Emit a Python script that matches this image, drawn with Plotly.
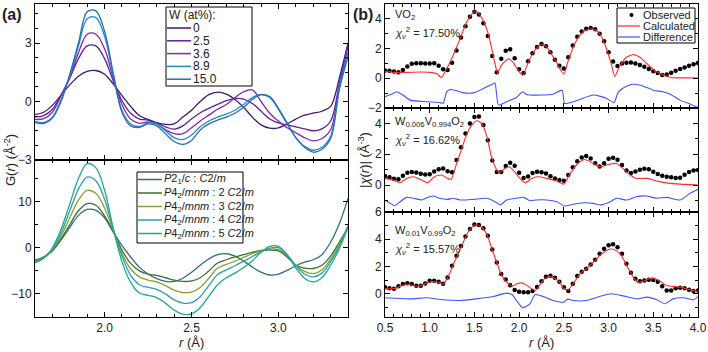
import plotly.graph_objects as go

# ---------------- panel (a) data ----------------
R_A = [1.60, 1.65, 1.70, 1.75, 1.80, 1.85, 1.90, 1.95, 2.00, 2.05, 2.10, 2.15, 2.20,
       2.25, 2.30, 2.35, 2.40, 2.45, 2.50, 2.55, 2.60, 2.65, 2.70, 2.75, 2.80, 2.85,
       2.90, 2.95, 3.00, 3.05, 3.10, 3.15, 3.20, 3.25, 3.30, 3.35, 3.40]

W_LABELS = ["0", "2.5", "3.6", "8.9", "15.0"]
G_W0 = [-0.67, -0.55, -0.2, 0.33, 0.85, 1.3, 1.55, 1.59, 1.4, 0.9, 0.3, -0.25, -0.72,
        -0.92, -1.08, -1.17, -1.15, -0.8, -0.45, 0.0, 0.35, 0.48, 0.38, 0.1, -0.3, -0.8,
        -1.2, -1.37, -1.35, -1.15, -0.9, -0.7, -0.6, -0.5, -0.25, 1.2, 3.0]
G_W25 = [-0.79, -0.72, -0.4, 0.33, 1.2, 2.2, 2.85, 2.85, 2.2, 1.05, 0.05, -0.6, -0.9,
         -0.95, -1.1, -1.3, -1.42, -1.25, -0.9, -0.58, -0.35, -0.15, 0.05, 0.15, 0.12, -0.1,
         -0.5, -0.9, -1.1, -1.2, -1.3, -1.4, -1.5, -1.4, -1.0, 0.9, 2.9]
G_W36 = [-0.92, -0.88, -0.55, 0.3, 1.25, 2.5, 3.45, 3.45, 2.7, 1.2, -0.15, -0.9, -1.12,
         -1.05, -1.15, -1.45, -1.65, -1.65, -1.35, -1.0, -0.7, -0.4, -0.15, 0.2, 0.5, 0.6,
         0.0, -0.6, -1.0, -1.35, -1.6, -1.85, -2.02, -1.9, -1.45, 0.8, 2.8]
G_W89 = [-1.02, -1.08, -0.8, 0.1, 1.3, 2.85, 4.25, 4.3, 3.35, 1.35, -0.45, -1.15, -1.28,
         -1.1, -1.15, -1.5, -1.85, -1.95, -1.72, -1.3, -1.0, -0.8, -0.65, -0.45, -0.15, 0.2,
         0.36, 0.2, -0.4, -1.15, -1.85, -2.3, -2.5, -2.35, -1.8, 0.7, 2.5]
G_W150 = [-1.08, -1.13, -0.85, 0.0, 1.4, 3.0, 4.6, 4.65, 3.6, 1.45, -0.55, -1.25, -1.33,
          -1.15, -1.25, -1.65, -2.05, -2.2, -2.0, -1.46, -1.15, -0.95, -0.8, -0.6, -0.3, 0.1,
          0.35, 0.25, -0.35, -1.1, -1.85, -2.35, -2.6, -2.45, -1.9, 0.6, 2.3]
W_COLORS = ["#40186e", "#5e1ea0", "#8228a8", "#1e8ad2", "#2a6cb6"]

PH_LABELS = ["<i>P</i>2<sub>1</sub>/<i>c</i> : <i>C</i>2/<i>m</i>",
             "<i>P</i>4<sub>2</sub>/<i>mnm</i> : 2 <i>C</i>2/<i>m</i>",
             "<i>P</i>4<sub>2</sub>/<i>mnm</i> : 3 <i>C</i>2/<i>m</i>",
             "<i>P</i>4<sub>2</sub>/<i>mnm</i> : 4 <i>C</i>2/<i>m</i>",
             "<i>P</i>4<sub>2</sub>/<i>mnm</i> : 5 <i>C</i>2/<i>m</i>"]
G_P21C = [-2.7, -2.0, -0.6, 1.7, 4.4, 7.0, 8.3, 8.1, 6.5, 3.4, 0.5, -2.0, -4.2, -5.7,
          -6.7, -7.3, -7.3, -6.6, -5.3, -3.8, -2.4, -1.5, -1.3, -1.8, -2.9, -4.2, -5.3,
          -5.9, -5.7, -4.9, -3.9, -3.1, -2.6, -1.5, 1.2, 5.2, 10.7]
G_P2 = [-2.9, -2.0, -0.7, 1.9, 5.0, 8.0, 9.55, 9.2, 6.9, 3.5, -0.5, -3.4, -5.0, -5.7,
        -6.0, -6.5, -7.0, -7.3, -7.2, -6.5, -5.0, -3.3, -2.6, -2.0, -1.5, -1.0, -0.6,
        -0.5, -0.7, -2.0, -3.8, -4.4, -4.5, -3.8, -1.8, 1.2, 4.4]
G_P3 = [-3.0, -2.1, -0.5, 2.5, 6.5, 10.3, 12.4, 11.8, 8.6, 3.8, -1.2, -4.6, -6.3, -7.0,
        -7.4, -8.2, -9.2, -9.7, -9.6, -8.6, -6.6, -4.4, -3.6, -2.9, -2.1, -1.3, -0.6,
        -0.3, -0.4, -1.7, -3.8, -5.1, -5.6, -4.8, -2.5, 0.7, 4.6]
G_P4 = [-3.2, -2.2, -0.3, 3.2, 8.0, 12.7, 15.3, 14.5, 10.5, 4.0, -1.8, -6.0, -8.0, -8.6,
        -9.0, -10.0, -11.3, -12.0, -11.9, -10.6, -8.2, -5.8, -4.8, -3.9, -2.9, -1.9, -0.9,
        -0.1, 0.0, -1.5, -3.9, -5.7, -6.3, -5.5, -3.0, 0.3, 4.8]
G_P5 = [-3.3, -2.3, 0.0, 4.0, 9.5, 15.0, 18.2, 17.3, 12.5, 4.2, -3.0, -7.5, -9.8, -10.3,
        -10.8, -12.0, -13.5, -14.4, -14.3, -13.0, -10.5, -8.0, -6.5, -5.5, -4.3, -2.8, -1.0,
        0.3, 0.3, -1.6, -4.4, -6.6, -7.4, -6.5, -3.8, -0.2, 4.5]
PH_COLORS = ["#2f7080", "#3b7030", "#86a030", "#2aa0b0", "#1faa88"]

# ---------------- panel (b) data ----------------
R_B = [0.50, 0.55, 0.60, 0.65, 0.70, 0.75, 0.80, 0.85, 0.90, 0.95, 1.00, 1.05, 1.10, 1.15,
       1.20, 1.25, 1.30, 1.35, 1.40, 1.45, 1.50, 1.55, 1.60, 1.65, 1.70, 1.75, 1.80, 1.85,
       1.90, 1.95, 2.00, 2.05, 2.10, 2.15, 2.20, 2.25, 2.30, 2.35, 2.40, 2.45, 2.50, 2.55,
       2.60, 2.65, 2.70, 2.75, 2.80, 2.85, 2.90, 2.95, 3.00, 3.05, 3.10, 3.15, 3.20, 3.25,
       3.30, 3.35, 3.40, 3.45, 3.50, 3.55, 3.60, 3.65, 3.70, 3.75, 3.80, 3.85, 3.90, 3.95,
       4.00]

OBS_VO2 = [0.53, 0.50, 0.45, 0.41, 0.55, 0.80, 0.97, 1.02, 1.02, 1.00, 1.00, 1.02, 0.85,
           0.60, 0.55, 1.05, 1.87, 2.75, 3.50, 4.15, 4.48, 4.30, 3.70, 2.85, 1.50, 0.40,
           1.31, 1.85, 1.95, 1.35, 0.60, 0.35, 1.15, 1.68, 2.10, 2.31, 2.15, 1.75, 1.25,
           0.85, 0.66, 1.42, 2.20, 2.80, 3.15, 3.33, 3.38, 3.30, 3.00, 2.50, 1.75, 1.13,
           0.82, 1.00, 1.05, 1.06, 1.00, 0.90, 0.78, 0.62, 0.48, 0.35, 0.22, 0.25, 0.38,
           0.50, 0.62, 0.73, 0.85, 0.95, 1.03]
CALC_VO2_R = [0.5, 0.6, 0.75, 0.9, 1.0, 1.08, 1.13, 1.19, 1.245, 1.30, 1.36, 1.41, 1.47,
              1.51, 1.54, 1.60, 1.655, 1.69, 1.73, 1.76, 1.80, 1.88, 1.93, 1.99, 2.04, 2.10,
              2.15, 2.20, 2.25, 2.31, 2.36, 2.42, 2.46, 2.50, 2.55, 2.60, 2.66, 2.72, 2.78,
              2.81, 2.87, 2.92, 2.98, 3.03, 3.07, 3.12, 3.20, 3.28, 3.35, 3.43, 3.50, 3.58,
              3.65, 3.72, 3.85, 4.0]
CALC_VO2 = [0.47, 0.4, 0.4, 0.42, 0.4, 0.31, 0.05, 0.64, 1.31, 2.09, 2.98, 3.76, 4.31,
            4.53, 4.42, 3.87, 2.98, 2.09, 0.98, 0.35, 0.87, 1.31, 1.09, 0.53, 0.2, 1.05,
            1.65, 2.05, 2.27, 2.1, 1.64, 1.05, 0.6, 0.27, 1.2, 2.0, 2.75, 3.15, 3.3, 3.31,
            3.18, 2.8, 1.95, 0.95, 0.13, 0.76, 1.42, 1.6, 1.42, 0.98, 0.58, 0.31, 0.13, 0.04,
            0.03, 0.02]
DIFF_VO2_R = [0.5, 0.59, 0.63, 0.70, 0.78, 0.97, 1.12, 1.15, 1.19, 1.23, 1.30, 1.38, 1.49,
              1.60, 1.71, 1.73, 1.77, 1.86, 1.97, 2.04, 2.08, 2.25, 2.38, 2.48, 2.51, 2.64,
              2.83, 2.98, 3.06, 3.11, 3.20, 3.28, 3.39, 3.50, 3.61, 3.69, 3.80, 3.91, 4.0]
DIFF_VO2 = [-1.24, -1.02, -0.91, -1.13, -1.47, -1.58, -1.64, -1.69, -0.91, -0.76, -0.84,
            -0.98, -0.98, -0.69, -0.36, -0.31, -1.8, -1.58, -1.29, -0.91, -1.09, -1.13,
            -1.07, -0.8, -1.69, -1.51, -1.13, -1.36, -1.64, -0.91, -0.53, -0.4, -0.53, -0.8,
            -0.91, -1.07, -1.47, -1.73, -1.96]

OBS_W006 = [0.58, 0.51, 0.41, 0.37, 0.60, 0.79, 0.85, 0.82, 0.74, 0.69, 0.70, 0.88, 1.02,
            1.07, 0.90, 0.83, 1.62, 2.45, 3.35, 4.00, 4.42, 4.45, 3.89, 2.90, 1.60, 0.84,
            0.85, 1.23, 1.45, 1.25, 0.80, 0.45, 0.55, 0.78, 0.86, 0.83, 0.75, 0.57, 0.43,
            0.33, 0.28, 0.65, 1.15, 1.55, 1.78, 1.88, 1.72, 1.42, 1.20, 1.42, 1.70, 1.77,
            1.64, 1.30, 0.95, 0.78, 0.88, 1.00, 1.06, 1.02, 0.86, 0.72, 0.60, 0.54, 0.51,
            0.46, 0.48, 0.67, 0.84, 0.94, 0.98]
CALC_W006_R = [0.5, 0.59, 0.67, 0.74, 0.82, 0.91, 0.98, 1.05, 1.13, 1.20, 1.24, 1.30, 1.36,
               1.41, 1.47, 1.53, 1.58, 1.64, 1.69, 1.75, 1.78, 1.84, 1.89, 1.95, 2.01, 2.07,
               2.14, 2.21, 2.31, 2.42, 2.50, 2.56, 2.64, 2.73, 2.83, 2.91, 3.02, 3.09, 3.16,
               3.24, 3.31, 3.43, 3.50, 3.57, 3.69, 3.80, 4.0]
CALC_W006 = [0.43, 0.32, 0.15, 0.43, 0.54, 0.32, 0.15, 0.54, 0.65, 0.43, 0.37, 1.4, 2.38,
             3.24, 3.89, 4.17, 4.0, 3.14, 1.84, 0.97, 0.8, 1.08, 1.19, 0.86, 0.43, 0.15, 0.43,
             0.54, 0.43, 0.26, 0.06, 0.65, 1.3, 1.66, 1.4, 1.19, 1.36, 1.4, 1.08, 0.65, 0.43,
             0.43, 0.32, 0.22, 0.11, 0.06, 0.0]
DIFF_W006_R = [0.5, 0.56, 0.61, 0.67, 0.74, 0.82, 0.91, 0.98, 1.04, 1.11, 1.20, 1.26, 1.34,
               1.49, 1.64, 1.75, 1.79, 1.86, 1.97, 2.05, 2.12, 2.19, 2.31, 2.42, 2.51, 2.60,
               2.72, 2.83, 2.90, 3.02, 3.09, 3.20, 3.31, 3.42, 3.54, 3.65, 3.80, 3.91, 4.0]
DIFF_W006 = [-0.97, -1.19, -1.34, -1.08, -0.8, -0.86, -0.97, -0.8, -0.71, -0.86, -0.93,
             -0.86, -0.97, -0.93, -0.86, -1.15, -1.3, -0.97, -0.86, -0.8, -1.02, -0.97,
             -0.97, -1.08, -1.36, -1.25, -1.15, -1.19, -1.3, -1.08, -0.86, -0.97, -0.76,
             -0.71, -0.86, -0.8, -0.97, -0.54, -0.28]

OBS_W01 = [0.49, 0.41, 0.38, 0.55, 0.72, 0.78, 0.72, 0.60, 0.60, 0.76, 0.95, 0.96, 0.88,
           0.73, 1.20, 2.05, 2.80, 3.50, 4.20, 4.75, 5.08, 5.05, 4.80, 4.25, 3.25, 2.30,
           1.46, 1.05, 0.62, 0.28, 0.15, 0.12, 0.12, 0.20, 0.50, 0.92, 1.25, 1.33, 1.17,
           0.88, 0.49, 0.20, 0.73, 1.30, 1.62, 1.83, 2.15, 2.50, 2.93, 3.30, 3.57, 3.64,
           3.42, 2.93, 2.20, 1.55, 1.10, 0.92, 0.98, 1.04, 1.02, 0.88, 0.55, 0.24, 0.25,
           0.40, 0.44, 0.40, 0.30, 0.20, 0.24]
CALC_W01_R = [0.5, 0.6, 0.74, 0.87, 1.02, 1.10, 1.15, 1.21, 1.26, 1.32, 1.38, 1.43, 1.49,
              1.52, 1.58, 1.64, 1.69, 1.75, 1.80, 1.86, 1.92, 1.97, 2.03, 2.09, 2.18, 2.24,
              2.29, 2.34, 2.40, 2.46, 2.50, 2.55, 2.60, 2.68, 2.75, 2.83, 2.90, 2.98, 3.03,
              3.09, 3.15, 3.20, 3.26, 3.32, 3.38, 3.43, 3.50, 3.57, 3.65, 3.80, 3.95, 4.0]
CALC_W01 = [0.37, 0.38, 0.7, 0.55, 0.9, 0.85, 0.7, 1.3, 2.1, 2.95, 3.85, 4.55, 5.0, 5.07,
            4.9, 4.35, 3.4, 2.3, 1.4, 0.85, 0.55, 0.72, 0.8, 0.6, 0.24, 0.75, 1.15, 1.27,
            1.12, 0.8, 0.37, 0.3, 0.7, 1.45, 1.85, 2.3, 2.8, 3.2, 3.29, 3.15, 2.75, 2.1, 1.4,
            0.85, 0.9, 1.05, 1.15, 0.95, 0.61, 0.49, 0.24, 0.17]
DIFF_W01_R = [0.5, 0.78, 0.97, 1.15, 1.34, 1.52, 1.71, 1.86, 1.92, 1.97, 2.04, 2.12, 2.18,
              2.27, 2.38, 2.50, 2.54, 2.60, 2.75, 2.90, 3.03, 3.16, 3.32, 3.43, 3.54, 3.63,
              3.72, 3.84, 3.95, 4.0]
DIFF_W01 = [-0.29, -0.37, -0.29, -0.44, -0.49, -0.37, -0.2, 0.05, -0.05, -0.49, -1.02,
            -0.73, -0.05, -0.2, -0.49, -0.61, -0.39, -0.49, -0.49, -0.2, 0.0, -0.15, -0.37,
            -0.24, -0.44, -0.73, -0.37, -0.29, -0.44, -0.2]

SAMPLES = ["VO<sub>2</sub>", "W<sub>0.006</sub>V<sub>0.994</sub>O<sub>2</sub>",
           "W<sub>0.01</sub>V<sub>0.99</sub>O<sub>2</sub>"]
CHI2 = ["17.50%", "16.62%", "15.57%"]
FIT_LABELS = ["Observed", "Calculated", "Difference"]
OBS_COLOR, CALC_COLOR, DIFF_COLOR = "black", "#ff2a2a", "#3a55ff"

# ---------------- figure ----------------
FW, FH = 708, 352
def fx(p):
    return p / FW
def fy(p):
    return 1 - p / FH

FONT = "Liberation Sans, Arial, sans-serif"
TXT = "#222"
fig = go.Figure()

top_series = [G_W0, G_W25, G_W36, G_W89, G_W150]
for lab, ys, col in zip(W_LABELS, top_series, W_COLORS):
    fig.add_trace(go.Scatter(x=R_A, y=ys, mode="lines", name=lab, showlegend=False,
                             line=dict(color=col, width=1.3, shape="spline", smoothing=1.0),
                             xaxis="x", yaxis="y"))

bot_series = [G_P21C, G_P2, G_P3, G_P4, G_P5]
for lab, ys, col in zip(PH_LABELS, bot_series, PH_COLORS):
    fig.add_trace(go.Scatter(x=R_A, y=ys, mode="lines", name=lab, showlegend=False,
                             line=dict(color=col, width=1.3, shape="spline", smoothing=1.0),
                             xaxis="x2", yaxis="y2"))

panels = [(OBS_VO2, CALC_VO2_R, CALC_VO2, DIFF_VO2_R, DIFF_VO2),
          (OBS_W006, CALC_W006_R, CALC_W006, DIFF_W006_R, DIFF_W006),
          (OBS_W01, CALC_W01_R, CALC_W01, DIFF_W01_R, DIFF_W01)]
for i, (obs, cr, cv, dr, dv) in enumerate(panels):
    xa, ya = "x%d" % (i + 3), "y%d" % (i + 3)
    fig.add_trace(go.Scatter(x=R_B, y=obs, mode="markers", name=FIT_LABELS[0], showlegend=False,
                             marker=dict(color=OBS_COLOR, size=4.5), xaxis=xa, yaxis=ya))
    fig.add_trace(go.Scatter(x=cr, y=cv, mode="lines", name=FIT_LABELS[1], showlegend=False,
                             line=dict(color=CALC_COLOR, width=1.1, shape="spline", smoothing=0.6),
                             xaxis=xa, yaxis=ya))
    fig.add_trace(go.Scatter(x=dr, y=dv, mode="lines", name=FIT_LABELS[2], showlegend=False,
                             line=dict(color=DIFF_COLOR, width=1.1, shape="spline", smoothing=0.6),
                             xaxis=xa, yaxis=ya))

axis_common = dict(showline=True, linecolor="black", linewidth=1, mirror="allticks",
                   ticks="inside", ticklen=5, tickwidth=1, tickcolor="black",
                   showgrid=False, zeroline=False, automargin=False,
                   tickfont=dict(family=FONT, size=12, color=TXT))
MINOR = dict(ticklen=3, ticks="inside", tickcolor="black")

XA = [fx(35), fx(348)]
XB = [fx(385), fx(698)]

layout = dict(
    width=FW, height=FH, margin=dict(l=0, r=0, t=0, b=0, pad=0, autoexpand=False),
    paper_bgcolor="white", plot_bgcolor="white", showlegend=False,
    font=dict(family=FONT, size=12, color=TXT),
    xaxis=dict(domain=XA, range=[1.6, 3.4], anchor="y", matches="x2", showticklabels=False,
               dtick=0.5, tick0=0, minor=dict(dtick=0.1, **MINOR), **axis_common),
    yaxis=dict(domain=[fy(160), fy(4)], range=[-3, 5.0], anchor="x", tickvals=[-3, 0, 3],
               minor=dict(dtick=0.75, tick0=0, **MINOR), **axis_common),
    xaxis2=dict(domain=XA, range=[1.6, 3.4], anchor="y2", dtick=0.5, tick0=0, tickformat=".1f",
                minor=dict(dtick=0.1, **MINOR), **axis_common),
    yaxis2=dict(domain=[fy(317), fy(160)], range=[-15, 19], anchor="x2", dtick=10, tick0=0,
                minor=dict(dtick=5, tick0=0, **MINOR), **axis_common),
)
ydoms = [[fy(108), fy(4)], [fy(212), fy(108)], [fy(317), fy(212)]]
yranges = [[-2, 5], [-1.75, 5], [-1.7, 6]]
for i in range(3):
    n = i + 3
    layout["xaxis%d" % n] = dict(domain=XB, range=[0.5, 4.0], anchor="y%d" % n, dtick=0.5, tick0=0,
                                 tickformat=".1f", showticklabels=(i == 2),
                                 minor=dict(dtick=0.1, **MINOR), **axis_common)
    if i != 2:
        layout["xaxis%d" % n]["matches"] = "x5"
    layout["yaxis%d" % n] = dict(domain=ydoms[i], range=yranges[i], anchor="x%d" % n,
                                 dtick=2, tick0=0, minor=dict(dtick=1, tick0=0, **MINOR),
                                 **axis_common)
fig.update_layout(**layout)

shapes = []
ann = []

def add_text(text, px, py, size=12, anchor="left", angle=0):
    ann.append(dict(text=text, x=fx(px), y=fy(py), xanchor=anchor, yanchor="middle",
                    textangle=angle, borderpad=0,
                    font=dict(size=size, color=TXT, family=FONT)))

def add_box(x0, y0, x1, y1):
    shapes.append(dict(type="rect", xref="paper", yref="paper", x0=fx(x0), x1=fx(x1),
                       y0=fy(y1), y1=fy(y0), fillcolor="white",
                       line=dict(color="black", width=1), layer="above"))

def add_seg(x0, x1, py, color, width=1.3):
    shapes.append(dict(type="line", xref="paper", yref="paper", x0=fx(x0), x1=fx(x1),
                       y0=fy(py), y1=fy(py), line=dict(color=color, width=width), layer="above"))

# legend (a) top
add_box(166, 7, 252, 86)
add_text("W (at%):", 168, 15, size=12)
for k, (lab, col) in enumerate(zip(W_LABELS, W_COLORS)):
    yy = 28 + 12.8 * k
    add_seg(167, 191, yy, col, 1.5)
    add_text(lab, 192, yy, size=12)

# legend (a) bottom
add_box(137, 172, 243, 243)
for k, (lab, col) in enumerate(zip(PH_LABELS, PH_COLORS)):
    yy = 179.5 + 13.5 * k
    add_seg(138, 162, yy, col, 1.5)
    add_text(lab, 163, yy, size=11)

# legend (b)
add_box(617, 8, 695, 43)
add_text(FIT_LABELS[0], 642, 15, size=11)
shapes.append(dict(type="circle", xref="paper", yref="paper", x0=fx(629.5), x1=fx(633.5),
                   y0=fy(17), y1=fy(13), fillcolor=OBS_COLOR, line=dict(width=0), layer="above"))
add_seg(618, 640, 26, CALC_COLOR, 1.2)
add_text(FIT_LABELS[1], 642, 26, size=11)
add_seg(618, 640, 37, DIFF_COLOR, 1.2)
add_text(FIT_LABELS[2], 642, 37, size=11)

# panel labels and axis titles
add_text("<b>(a)</b>", 1, 14, size=16)
add_text("<b>(b)</b>", 352, 14, size=16)
add_text("G(<i>r</i>) (Å<sup>-2</sup>)", 10, 160, size=13, anchor="center", angle=-90)
add_text("|<i>χ</i>(<i>r</i>)| (Å<sup>-3</sup>)", 364, 160, size=13, anchor="center", angle=-90)
add_text("<i>r</i> (Å)", 191, 342, size=13, anchor="center")
add_text("<i>r</i> (Å)", 541, 342, size=13, anchor="center")

name_y = [15, 122, 231]
for s, c, yy in zip(SAMPLES, CHI2, name_y):
    add_text(s, 394, yy, size=11)
    add_text("<i>χ<sub>ν</sub></i><sup>2</sup> = " + c, 394, yy + 18, size=11)

for a in ann:
    a.update(xref="paper", yref="paper", showarrow=False)
fig.update_layout(annotations=ann, shapes=shapes)

fig.write_html("out.html", config={"displayModeBar": False, "staticPlot": True},
               post_script="document.body.style.margin='0';document.body.style.padding='0';"
                           "document.body.style.overflow='hidden';")
